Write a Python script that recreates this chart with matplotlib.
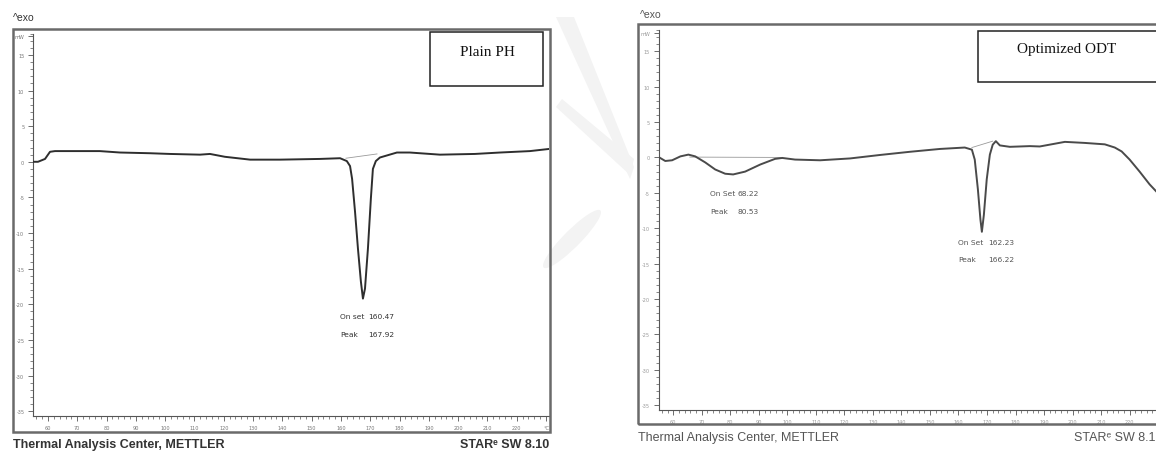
import matplotlib
matplotlib.use("Agg")
import matplotlib.pyplot as plt
from matplotlib.patches import Rectangle, Polygon, Ellipse
from matplotlib.ticker import MultipleLocator

W, H = 1156, 452

# ---------------- data ----------------
# Plain PH (left thermogram): temperature (degC) / heat flow (mW)
ph_temp = [54.9, 56.6, 59.0, 60.7, 62.4, 77.7, 84.6, 94.8, 101.6, 111.9, 115.3,
           120.4, 129.0, 139.2, 152.8, 159.7, 162.0, 163.1, 163.8, 164.8, 165.8,
           166.8, 167.5, 168.2, 169.2, 170.2, 170.9, 171.9, 173.3, 179.1, 183.5,
           193.8, 205.7, 214.3, 224.5, 231.0]
ph_flow = [0.0, 0.0, 0.4, 1.4, 1.5, 1.5, 1.3, 1.2, 1.1, 1.0, 1.1,
           0.7, 0.3, 0.3, 0.4, 0.5, 0.1, -0.6, -2.4, -7.0, -12.2,
           -16.8, -19.2, -17.8, -12.2, -5.2, -1.0, 0.1, 0.6, 1.3, 1.3,
           1.0, 1.1, 1.3, 1.5, 1.8]
ph_base_t = [161.7, 172.3]
ph_base_v = [0.5, 1.1]

# Optimized ODT (right thermogram)
odt_temp = [55.1, 57.2, 59.6, 62.5, 65.3, 67.7, 71.2, 74.7, 78.2, 81.0, 85.2,
            90.5, 95.7, 98.2, 102.7, 111.5, 122.0, 132.5, 143.0, 153.5, 162.2,
            164.7, 165.7, 166.8, 167.7, 168.2, 168.9, 169.9, 171.0, 172.0, 173.1,
            174.5, 178.0, 185.0, 188.5, 197.3, 204.3, 211.3, 214.8, 217.2, 220.0,
            223.5, 227.0, 229.8, 231.2]
odt_flow = [0.0, -0.5, -0.4, 0.15, 0.4, 0.15, -0.7, -1.7, -2.3, -2.4, -2.0,
            -1.0, -0.2, -0.07, -0.3, -0.4, -0.14, 0.35, 0.8, 1.2, 1.4,
            1.1, -0.3, -4.5, -8.8, -10.5, -8.1, -3.1, 0.4, 1.8, 2.3,
            1.7, 1.5, 1.6, 1.55, 2.2, 2.05, 1.85, 1.4, 0.85, -0.3,
            -2.0, -3.8, -5.0, -5.5]
odt_base1_t = [65.8, 97.7]
odt_base1_v = [0.05, 0.0]
odt_base2_t = [164.7, 172.0]
odt_base2_v = [1.4, 2.3]

x_ticks = [60, 70, 80, 90, 100, 110, 120, 130, 140, 150, 160, 170, 180, 190, 200, 210, 220, 230]
x_labels = [str(t) for t in x_ticks[:-1]] + ["°C"]
y_ticks = [-35, -30, -25, -20, -15, -10, -5, 0, 5, 10, 15, 17.6]
y_labels = [str(v) for v in y_ticks[:-1]] + ["mW"]

fig = plt.figure(figsize=(W / 100, H / 100), dpi=100)


def fx(px):
    return px / W


def fy(py):
    return 1 - py / H


# faint watermark in the gap between the two screenshots
wm = "#f3f3f3"
fig.patches.append(Polygon([(fx(556), fy(18)), (fx(574), fy(18)), (fx(634), fy(168)),
                            (fx(630), fy(180))], closed=True, transform=fig.transFigure,
                           facecolor=wm, edgecolor="none", zorder=0))
fig.patches.append(Polygon([(fx(556), fy(108)), (fx(562), fy(100)), (fx(634), fy(160)),
                            (fx(630), fy(176))], closed=True, transform=fig.transFigure,
                           facecolor=wm, edgecolor="none", zorder=0))
fig.patches.append(Ellipse((fx(572), fy(240)), fx(22), 62 / H, angle=-20,
                           transform=fig.transFigure, facecolor=wm, edgecolor="none", zorder=0))


def panel(ax_rect, frame_rect, temp, flow, bases, txtcol, lincol, nlab):
    # outer window frame
    fig.patches.append(Rectangle((fx(frame_rect[0]), fy(frame_rect[3])),
                                 fx(frame_rect[2] - frame_rect[0]),
                                 (frame_rect[3] - frame_rect[1]) / H,
                                 transform=fig.transFigure, fill=False,
                                 edgecolor="#6a6a6a", lw=1.8, zorder=1))
    x0, x1, ytop, ybot = ax_rect
    ax = fig.add_axes([fx(x0), fy(ybot), fx(x1 - x0), (ybot - ytop) / H])
    ax.set_facecolor("none")
    ax.plot(temp, flow, color=lincol, lw=1.4, solid_joinstyle="round", zorder=3)
    for bt, bv in bases:
        ax.plot(bt, bv, color="#9a9a9a", lw=0.6, zorder=2)
    ax.set_xlim(55, 231)
    ax.set_ylim(-35.6, 18)
    for s in ("top", "right"):
        ax.spines[s].set_visible(False)
    for s in ("left", "bottom"):
        ax.spines[s].set_color("#555555")
        ax.spines[s].set_linewidth(0.8)
    ax.set_xticks(x_ticks[:nlab], x_labels[:nlab])
    ax.set_yticks(y_ticks, y_labels)
    ax.xaxis.set_minor_locator(MultipleLocator(2))
    ax.yaxis.set_minor_locator(MultipleLocator(1))
    ax.tick_params(which="major", length=3.5, width=0.6, color="#555555",
                   labelsize=3.6, labelcolor=txtcol, pad=3, direction="out")
    ax.tick_params(which="minor", length=2, width=0.5, color="#555555", direction="out")
    return ax


left = panel((33.3, 549, 34.5, 416.5), (13, 30, 550, 433), ph_temp, ph_flow,
             [(ph_base_t, ph_base_v)], "#777777", "#2e2e2e", len(x_ticks))
# right screenshot is cropped at the image edge, so its last label is not shown
right = panel((659, 1161, 31, 410.5), (638, 25, 1175, 425), odt_temp, odt_flow,
              [(odt_base1_t, odt_base1_v), (odt_base2_t, odt_base2_v)], "#999999", "#4a4a4a",
              len(x_ticks) - 1)

# onset / peak annotations
ann = dict(fontsize=5.4, family="DejaVu Sans", va="center")
left.text(159.7, -21.6, "On set", color="#333333", **ann)
left.text(169.2, -21.6, "160.47", color="#333333", **ann)
left.text(159.7, -24.1, "Peak", color="#333333", **ann)
left.text(169.2, -24.1, "167.92", color="#333333", **ann)
right.text(73.0, -5.0, "On Set", color="#555555", **ann)
right.text(82.4, -5.0, "68.22", color="#555555", **ann)
right.text(73.0, -7.6, "Peak", color="#555555", **ann)
right.text(82.4, -7.6, "80.53", color="#555555", **ann)
right.text(159.8, -12.0, "On Set", color="#555555", **ann)
right.text(170.3, -12.0, "162.23", color="#555555", **ann)
right.text(159.8, -14.4, "Peak", color="#555555", **ann)
right.text(170.3, -14.4, "166.22", color="#555555", **ann)

# sample label boxes
fig.patches.append(Rectangle((fx(430), fy(87)), fx(113), 54 / H, transform=fig.transFigure,
                             fill=True, facecolor="white", edgecolor="#222222", lw=1.1, zorder=4))
fig.text(fx(487), fy(53), "Plain PH", family="Liberation Serif", fontsize=11,
         ha="center", va="center", color="#111111", zorder=5)
fig.patches.append(Rectangle((fx(978), fy(83)), fx(185), 51 / H, transform=fig.transFigure,
                             fill=True, facecolor="white", edgecolor="#222222", lw=1.1, zorder=4))
fig.text(fx(1067), fy(50), "Optimized ODT", family="Liberation Serif", fontsize=11,
         ha="center", va="center", color="#111111", zorder=5)

# window captions
sans = ["Liberation Sans", "DejaVu Sans"]
fig.text(fx(13), fy(18), "^exo", family=sans, fontsize=7.5, color="#333333", va="center")
fig.text(fx(640), fy(15), "^exo", family=sans, fontsize=7.5, color="#555555", va="center")
fig.text(fx(13), fy(445), "Thermal Analysis Center, METTLER", family=sans, fontsize=9,
         weight="bold", color="#333333", va="center")
fig.text(fx(549), fy(445), "STARᵉ SW 8.10", family=sans, fontsize=9,
         weight="bold", color="#333333", va="center", ha="right")
fig.text(fx(638), fy(438), "Thermal Analysis Center, METTLER", family=sans, fontsize=9,
         color="#555555", va="center")
fig.text(fx(1155), fy(438), "STARᵉ SW 8.1", family=sans, fontsize=9,
         color="#555555", va="center", ha="right")

fig.savefig("out.png", dpi=100)
